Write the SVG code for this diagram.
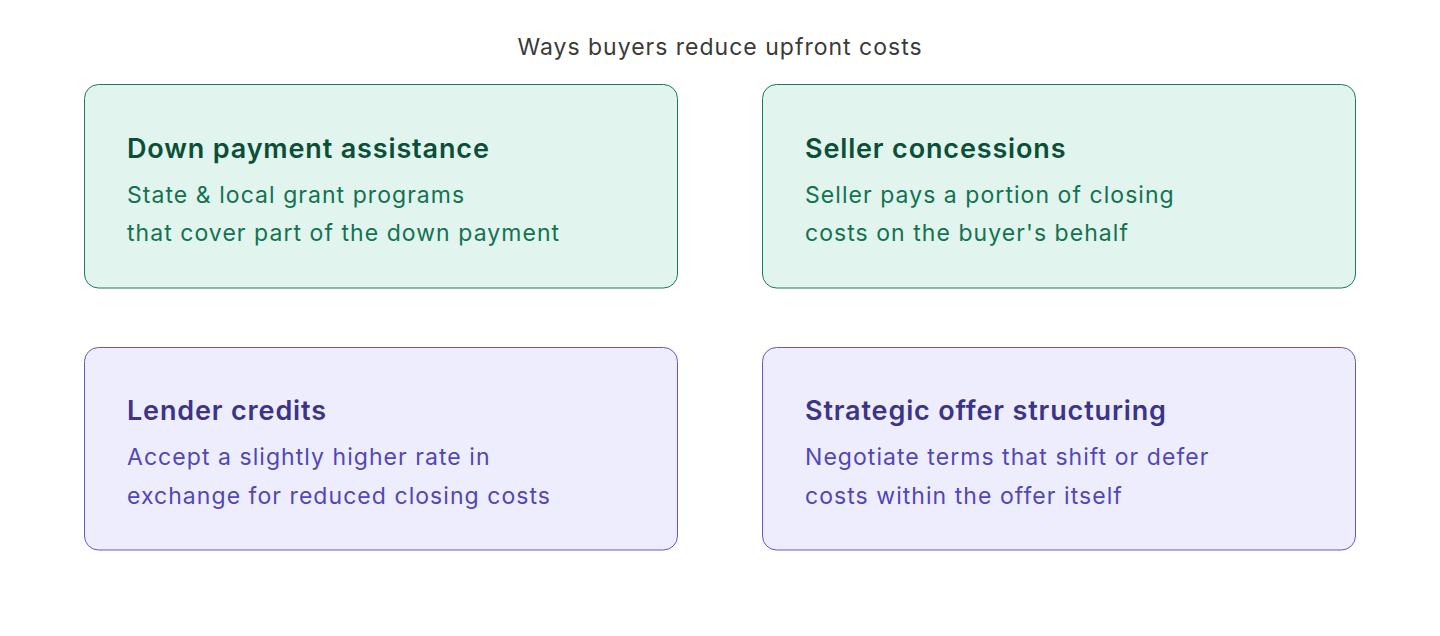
<svg xmlns="http://www.w3.org/2000/svg" width="1440" height="636" viewBox="0 0 1440 636">
<style>
text{font-family:Inter,"Noto Sans",sans-serif}
.title{font-size:23px;fill:#3a3a38;text-anchor:middle;letter-spacing:1px}
.h{font-size:27px;font-weight:600;letter-spacing:0.85px}
.b{font-size:23px;letter-spacing:1.05px}
.g rect{fill:#e1f4ed;stroke:#1d7a55;stroke-width:1}
.g .h{fill:#0b4f37}
.g .b{fill:#137252}
.p rect{fill:#eeedfd;stroke:#6657c9;stroke-width:1}
.p .h{fill:#3c3489}
.p .b{fill:#5246b8}
</style>
<rect width="1440" height="636" fill="#ffffff"/>
<text class="title" x="720" y="55">Ways buyers reduce upfront costs</text>
<g id="connectors"></g>
<g id="down-payment" class="g">
<rect x="84.5" y="84.5" width="593" height="203.5" rx="14"/>
<text class="h" x="127" y="158">Down payment assistance</text>
<text class="b" x="127" y="203">State &amp; local grant programs</text>
<text class="b" x="127" y="241">that cover part of the down payment</text>
</g>
<g id="seller-concessions" class="g">
<rect x="762.5" y="84.5" width="593" height="203.5" rx="14"/>
<text class="h" x="805" y="158">Seller concessions</text>
<text class="b" x="805" y="203">Seller pays a portion of closing</text>
<text class="b" x="805" y="241">costs on the buyer's behalf</text>
</g>
<g id="lender-credits" class="p">
<rect x="84.5" y="347.5" width="593" height="202.5" rx="14"/>
<text class="h" x="127" y="420">Lender credits</text>
<text class="b" x="127" y="465">Accept a slightly higher rate in</text>
<text class="b" x="127" y="504">exchange for reduced closing costs</text>
</g>
<g id="strategic-offer" class="p">
<rect x="762.5" y="347.5" width="593" height="202.5" rx="14"/>
<text class="h" x="805" y="420">Strategic offer structuring</text>
<text class="b" x="805" y="465">Negotiate terms that shift or defer</text>
<text class="b" x="805" y="504">costs within the offer itself</text>
</g>
</svg>
